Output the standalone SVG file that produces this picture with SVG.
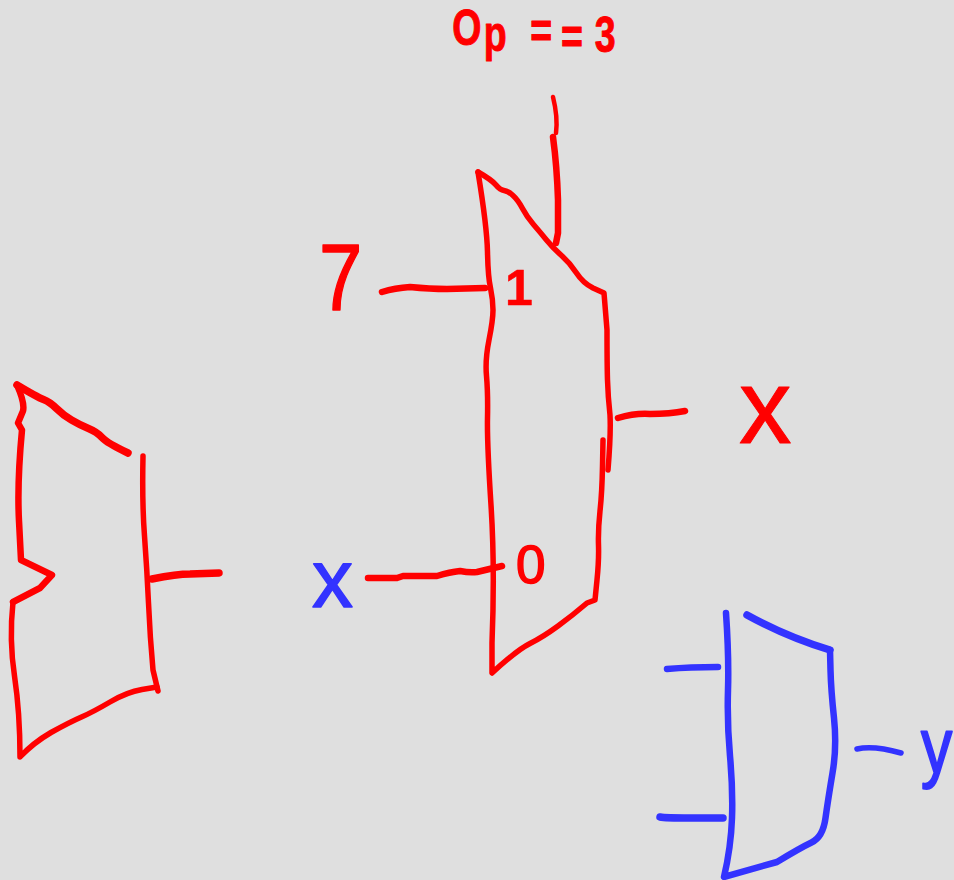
<svg xmlns="http://www.w3.org/2000/svg" width="954" height="880" viewBox="0 0 954 880">
<style>
.s{fill:none;stroke-linecap:round;stroke-linejoin:round}
.r{stroke:#ff0000}
.b{stroke:#3333ff}
.w4{stroke-width:4.5}
.w5{stroke-width:5.5}
.w6{stroke-width:6.5}
.w7{stroke-width:7.5}
text{font-family:"Liberation Sans",Arial,sans-serif;stroke-linejoin:round}
.tr{fill:#ff0000;stroke:#ff0000}
.tb{fill:#3333ff;stroke:#3333ff}
</style>
<rect width="954" height="880" fill="#dfdfdf"/>
<g id="mux-main">
<path class="s r w5" d="M478,172 Q492,180 496,185 Q500,190 504,190.5 Q508,191 513,195.5 Q518,200 522.5,208.5 Q527,217 533.5,224.5 Q540,232 546.5,240 Q553,248 561.5,255.5 Q570,263 576.5,273 Q583,283 593,288 L604,293 L607,330 Q607,363 607.5,380 Q608,397 610,415 Q611,433 608,470"/>
<path class="s r w5" d="M603,440 L602.5,466 Q602,493 600,511 Q598,530 598.5,545 Q599,560 597,580 L595,600 L587,603 Q573,615 558,626 Q543,637 530,643.5 Q517,650 492,673 L492,643 Q495,567 491,505 Q487,443 487.5,418 Q488,393 486.5,376 Q485,360 489,340 Q493,320 493,310 Q493,300 490.5,288 Q488,277 487.5,252 Q487,227 478,172"/>
<text class="tr" x="505" y="305" font-size="50" font-weight="bold" stroke-width="0.5">1</text>
<text class="tr" x="516" y="583" font-size="53" stroke-width="1.5">0</text>
</g>
<g id="mux-left">
<path class="s r w7" d="M17,385 Q37,397 43.5,399.5 Q50,402 56.5,408.5 Q63,415 71.5,420 Q80,425 88.5,428.5 Q97,432 102,437.5 Q107,443 128,453"/>
<path class="s r w6" d="M17,385 Q25,403 23,411 L18,423 L22,430 Q17,483 19,521 L21,560 L52,575 L40,588 L13,602"/>
<path class="s r w5" d="M13,602 Q9,640 14.5,676 Q20,713 20,757 Q33,743 51,732.5 Q70,722 81.5,717 Q93,712 110,702 Q127,692 142,689.5 L157,687"/>
<path class="s r w5" d="M143,456 Q142,503 144.5,536 Q147,570 148.5,603 Q150,637 153,670 L158,691"/>
</g>
<g id="mux-blue">
<path class="s b w6" d="M726,613 Q729,657 728,690 Q727,723 730,756 Q733,790 732,818 Q731,847 724,877 L777,862 Q800,848 811.5,842.5 Q823,837 825.5,818 Q828,800 832.5,773 Q837,747 834,718 Q831,690 830.5,670 L830,650"/>
<path class="s b w7" d="M830,650 Q787,637 747,615"/>
</g>
<g id="connectors">
<path class="s r w4" d="M553,97 Q558,117 556,133"/>
<path class="s r w6" d="M553,137 Q557,167 558,200 L558,233 L556,243"/>
<path class="s r w6" d="M382,292 Q395,288 410,287 Q430,289 447,289 L485,288"/>
<path class="s r w6" d="M368,578 L397,578 L403,576 L437,576 Q450,572 460,571 Q470,573 477,572 L502,566"/>
<path class="s r w6" d="M618,418 Q635,413 650,414 Q670,414 685,411"/>
<path class="s r w7" d="M152,579 Q177,574 190,574 L219,573"/>
<path class="s b w6" d="M667,669 Q690,667 718,667"/>
<path class="s b w7" d="M660,817 Q665,818 690,818 L723,818"/>
<path class="s b w5" d="M857,749 Q873,745 901,753"/>
</g>
<g id="labels">
<text class="tr" transform="scale(.75,1)" font-size="50" font-weight="bold" stroke-width="1" x="603 645 680 707 748 780 793" y="45 51 51 48 54 51 52">Op == 3</text>
<text class="tr" transform="translate(319,310) scale(.82,1)" font-size="95" stroke-width="1.5">7</text>
<text class="tr" x="739" y="443" font-size="105" stroke-width="1">x</text>
<text class="tb" x="312" y="607" font-size="82" stroke-width="1.5">x</text>
<text class="tb" transform="translate(921,773) scale(.8,1)" font-size="78" stroke-width="2">y</text>
</g>
</svg>
